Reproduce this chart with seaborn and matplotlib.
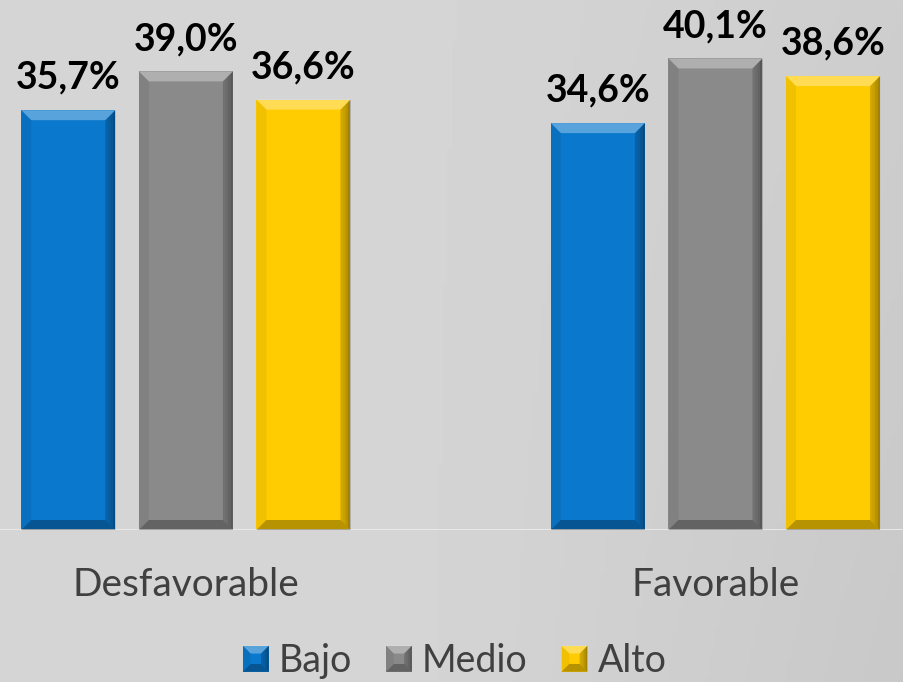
import numpy as np
import pandas as pd
import matplotlib
matplotlib.use("Agg")
import matplotlib.pyplot as plt
import seaborn as sns
from matplotlib.patches import Polygon
from matplotlib.transforms import IdentityTransform

categories = ["Desfavorable", "Favorable"]
levels = ["Bajo", "Medio", "Alto"]
bajo = [35.7, 34.6]
medio = [39.0, 40.1]
alto = [36.6, 38.6]
colors = ["#0a78cc", "#8a8a8a", "#ffcc02"]

df = pd.DataFrame({
    "categoria": categories * 3,
    "nivel": [lv for lv in levels for _ in categories],
    "valor": bajo + medio + alto,
})

sns.set_theme(style="white")
plt.rcParams["font.family"] = ["Lato", "DejaVu Sans"]

fig = plt.figure(figsize=(9.04, 6.82), dpi=100)
fig.patch.set_facecolor("#d3d2cd")

# soft background wash
bg = fig.add_axes([0, 0, 1, 1], zorder=-5)
gx = np.linspace(0, 1, 200)
gy = np.linspace(0, 1, 150)
X, Y = np.meshgrid(gx, gy)
shade = 0.835 - 0.05 * np.clip((X - 0.45) / 0.55, 0, 1) * (0.6 + 0.4 * Y)
bg.imshow(shade, cmap="gray", vmin=0, vmax=1, aspect="auto",
          extent=[0, 1, 0, 1], origin="upper")
bg.set_axis_off()

ax = fig.add_axes([0, 0.2229, 1, 0.7771])
ax.patch.set_alpha(0)
sns.barplot(data=df, x="categoria", y="valor", hue="nivel", order=categories,
            hue_order=levels, palette=colors, saturation=1, width=0.666,
            gap=0.2, ax=ax, edgecolor="none", linewidth=0)

ax.set_xlim(-0.351, 1.356)
ax.set_ylim(0, 45.07)
ax.set_xlabel("")
ax.set_ylabel("")
ax.set_yticks([])
for s in ax.spines.values():
    s.set_visible(False)
ax.tick_params(axis="x", length=0, pad=27, labelsize=28, labelcolor="#404040")
ax.axhline(0, color="#ececec", lw=2, zorder=1)

for bars in ax.containers:
    ax.bar_label(bars, labels=[f"{v:.1f}%".replace(".", ",") for v in bars.datavalues],
                 padding=11, fontsize=27, fontweight="bold", color="black")

sns.move_legend(ax, "center", bbox_to_anchor=(0.503, -0.247), ncol=3,
                frameon=False, title=None, fontsize=27, handlelength=0.69,
                handleheight=0.69, handletextpad=0.27, columnspacing=0.9,
                labelcolor="#404040")

fig.canvas.draw()


def bevel(add, x0, y0, x1, y1, b, transform, z):
    """Shade the four edges of a rectangle to give it a raised look."""
    bands = [
        ([(x0, y1), (x1, y1), (x1 - b[0], y1 - b[1]), (x0 + b[0], y1 - b[1])], "white", 0.32),
        ([(x0, y0), (x0 + b[0], y0 + b[1]), (x1 - b[0], y0 + b[1]), (x1, y0)], "black", 0.28),
        ([(x0, y1), (x0 + b[0], y1 - b[1]), (x0 + b[0], y0 + b[1]), (x0, y0)], "black", 0.06),
    ]
    for pts, c, a in bands:
        add(Polygon(pts, closed=True, facecolor=c, alpha=a,
                    edgecolor="none", zorder=z, transform=transform))
    # right edge darkens toward the outside
    for k, a in enumerate([0.18, 0.22, 0.28, 0.36]):
        f0, f1 = k / 4, (k + 1) / 4
        pts = [(x1 - b[0] * (1 - f0), y1 - b[1] * (1 - f0)),
               (x1 - b[0] * (1 - f1), y1 - b[1] * (1 - f1)),
               (x1 - b[0] * (1 - f1), y0 + b[1] * (1 - f1)),
               (x1 - b[0] * (1 - f0), y0 + b[1] * (1 - f0))]
        add(Polygon(pts, closed=True, facecolor="black", alpha=a,
                    edgecolor="none", zorder=z, transform=transform))


inv = ax.transData.inverted()
p0 = inv.transform((0, 0))
p1 = inv.transform((10, 10))
bd = (p1[0] - p0[0], p1[1] - p0[1])
for bars in ax.containers:
    for p in bars:
        bevel(ax.add_patch, p.get_x(), 0, p.get_x() + p.get_width(),
              p.get_height(), bd, ax.transData, 3)

# pyramid shading on legend keys
leg = ax.get_legend()
renderer = fig.canvas.get_renderer()
for h in leg.get_patches():
    bb = h.get_window_extent(renderer)
    w, hh = bb.width, bb.height
    bevel(fig.add_artist, bb.x0, bb.y0, bb.x1, bb.y1, (w * 0.3, hh * 0.3),
          IdentityTransform(), 10)

fig.savefig("out.png", dpi=100, facecolor=fig.get_facecolor())
